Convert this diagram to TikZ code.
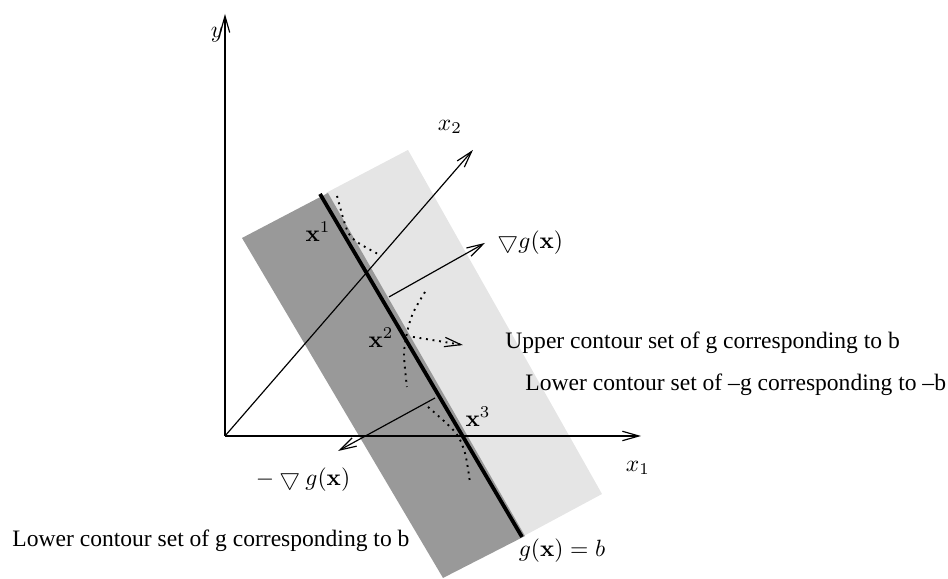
\documentclass[tikz,border=0pt]{standalone}
\usepackage[no-math]{fontspec}
\setmainfont{Liberation Serif}
\usepackage{amsmath}
\usetikzlibrary{arrows.meta}

\tikzset{
    lightset/.style={fill=black!10},
    darkset/.style={fill=black!40},
    axis/.style={->, line width=0.5pt},
    gradarrow/.style={->, line width=0.5pt},
    dotcurve/.style={dotted, line width=0.8pt},
    hyperplane/.style={line width=1.6pt}
}

\begin{document}
\begin{tikzpicture}[>={Straight Barb[length=7pt,width=4pt,line width=0.5pt]}]
    \useasboundingbox (-3.358,-2.134) rectangle (10.791,6.507);

    % Upper and lower sets
    \fill[lightset] (1.507,3.627) -- (2.731,4.269) -- (5.627,-0.866) -- (4.433,-1.507) -- cycle;
    \fill[darkset] (0.254,2.955) -- (1.537,3.627) -- (4.478,-1.493) -- (3.254,-2.119) -- cycle;

    % Points
    \coordinate (O) at (0,0);
    \coordinate (ytip) at (0,6.299);
    \coordinate (xonetip) at (6.209,0);
    \coordinate (xtwotip) at (3.701,4.269);
    \coordinate (htop) at (1.418,3.612);
    \coordinate (hbot) at (4.433,-1.507);
    \coordinate (gradfoot) at (2.448,2.075);
    \coordinate (gradtip) at (3.881,2.881);
    \coordinate (neggradfoot) at (3.134,0.567);
    \coordinate (neggradtip) at (1.687,-0.224);
    \coordinate (dirfoot) at (2.806,1.478);
    \coordinate (dirtip) at (3.552,1.358);

    % Axes
    \draw[axis] (O) -- (ytip);
    \draw[axis] (O) -- (xonetip);
    \draw[axis] (O) -- (xtwotip);
    \node (ylab) at (-0.119,5.985) {$y$};
    \node (xonelab) at (6.164,-0.478) {$x_1$};
    \node (xtwolab) at (3.358,4.612) {$x_2$};

    % Hyperplane g(x) = b
    \draw[hyperplane] (htop) -- (hbot);
    \node (hyplab) at (5.03,-1.716) {$g(\mathbf{x}) = b$};

    % Gradients
    \draw[gradarrow] (gradfoot) -- (gradtip);
    \draw[gradarrow] (neggradfoot) -- (neggradtip);
    \node[anchor=west, inner sep=0pt] (gradlab) at (4.06,2.881) {$\bigtriangledown g(\mathbf{x})$};
    \node (neggradlab) at (1.164,-0.657) {$-\bigtriangledown g(\mathbf{x})$};

    % Level curves
    \draw[dotcurve] plot[smooth] coordinates {(1.672,3.582) (1.821,3.075) (1.970,2.896) (2.313,2.701)};
    \draw[dotcurve] plot[smooth] coordinates {(2.985,2.149) (2.806,1.836) (2.716,1.537) (2.672,1.209) (2.716,0.731)};
    \draw[dotcurve] plot[smooth] coordinates {(3.030,0.433) (3.433,0.060) (3.582,-0.254) (3.657,-0.701)};
    \draw[dotcurve, ->] (dirfoot) -- (dirtip);
    \node (xa) at (1.388,3.045) {$\mathbf{x}^1$};
    \node (xb) at (2.328,1.463) {$\mathbf{x}^2$};
    \node (xc) at (3.776,0.284) {$\mathbf{x}^3$};

    % Set labels
    \node[anchor=west, inner sep=0pt] (upperlab) at (4.179,1.388) {Upper contour set of g corresponding to b};
    \node[anchor=west, inner sep=0pt] (lowerneglab) at (4.478,0.761) {Lower contour set of --g corresponding to --b};
    \node[anchor=west, inner sep=0pt] (lowerlab) at (-3.179,-1.567) {Lower contour set of g corresponding to b};
\end{tikzpicture}
\end{document}
